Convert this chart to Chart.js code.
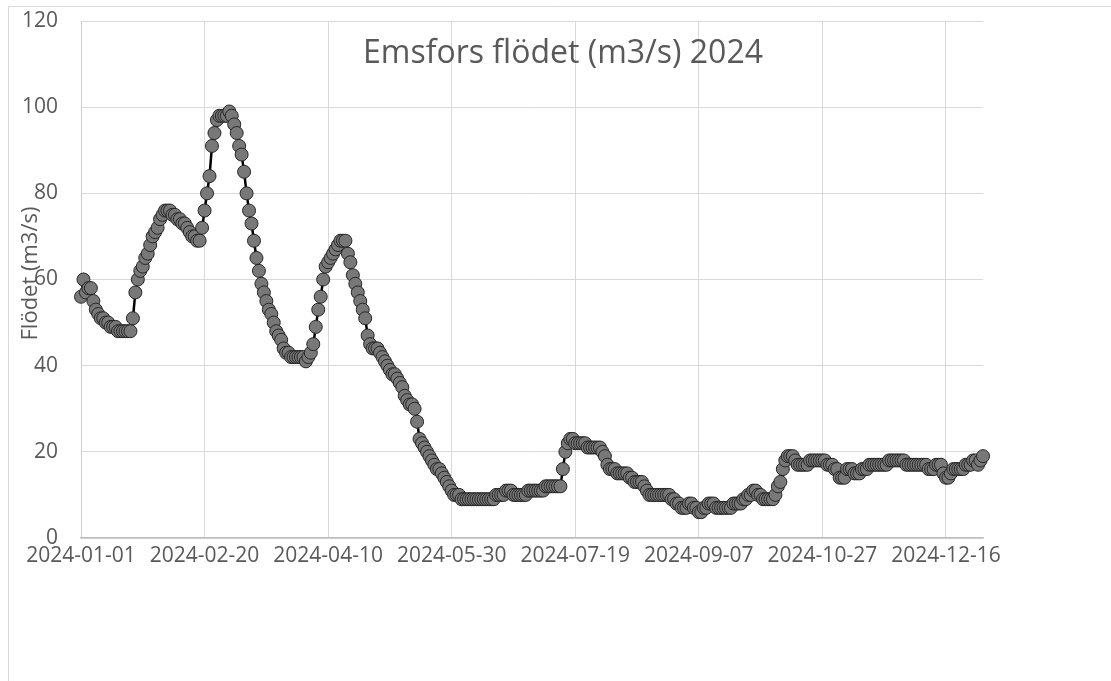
<!DOCTYPE html>
<html lang="sv">
<head>
<meta charset="utf-8">
<title>Emsfors flödet 2024</title>
<script src="https://cdn.jsdelivr.net/npm/chart.js@4.4.1/dist/chart.umd.min.js"></script>
<style>
    html, body { margin: 0; padding: 0; background: #ffffff; }
    canvas { display: block; }
</style>
</head>
<body>
<canvas id="flow-chart" width="1111" height="681"></canvas>
<script>
// daily flow at Emsfors, m3/s, one array per month
const START_DATE = "2024-01-01";
const jan = [56, 60, 57, 58, 58, 55, 53, 52, 51, 51, 50, 50, 49, 49, 49, 48, 48, 48, 48, 48, 48, 51, 57, 60, 62, 63, 65, 66, 68, 70, 71];
const feb = [72, 74, 75, 76, 76, 76, 75, 75, 74, 74, 73, 73, 72, 71, 70, 70, 69, 69, 72, 76, 80, 84, 91, 94, 97, 98, 98, 98, 98];
const mar = [99, 98, 96, 94, 91, 89, 85, 80, 76, 73, 69, 65, 62, 59, 57, 55, 53, 52, 50, 48, 47, 46, 44, 43, 43, 42, 42, 42, 42, 42, 42];
const apr = [41, 42, 43, 45, 49, 53, 56, 60, 63, 64, 65, 66, 67, 68, 69, 69, 69, 66, 64, 61, 59, 57, 55, 53, 51, 47, 45, 44, 44, 44];
const may = [43, 42, 41, 40, 39, 38, 38, 37, 36, 35, 33, 32, 31, 31, 30, 27, 23, 22, 21, 20, 19, 18, 17, 16, 16, 15, 14, 13, 12, 11, 10];
const jun = [10, 10, 9, 9, 9, 9, 9, 9, 9, 9, 9, 9, 9, 9, 9, 9, 10, 10, 10, 10, 11, 11, 11, 10, 10, 10, 10, 10, 10, 11];
const jul = [11, 11, 11, 11, 11, 11, 12, 12, 12, 12, 12, 12, 12, 16, 20, 22, 23, 23, 22, 22, 22, 22, 22, 21, 21, 21, 21, 21, 21, 20, 19];
const aug = [17, 16, 16, 16, 15, 15, 15, 15, 15, 14, 14, 13, 13, 13, 13, 12, 11, 10, 10, 10, 10, 10, 10, 10, 10, 10, 9, 9, 8, 8, 7];
const sep = [7, 7, 8, 8, 7, 7, 6, 6, 7, 7, 8, 8, 8, 7, 7, 7, 7, 7, 7, 7, 8, 8, 8, 8, 9, 9, 10, 10, 11, 11];
const oct = [10, 10, 9, 9, 9, 9, 9, 10, 12, 13, 16, 18, 19, 19, 19, 18, 17, 17, 17, 17, 17, 18, 18, 18, 18, 18, 18, 18, 17, 17, 17];
const nov = [16, 16, 14, 14, 14, 16, 16, 16, 15, 15, 15, 16, 16, 16, 17, 17, 17, 17, 17, 17, 17, 17, 18, 18, 18, 18, 18, 18, 18, 17];
const dec = [17, 17, 17, 17, 17, 17, 17, 17, 16, 16, 16, 17, 17, 17, 15, 14, 14, 15, 16, 16, 16, 16, 16, 17, 17, 17, 18, 18, 17, 18, 19];

const xTickLabels = ["2024-01-01", "2024-02-20", "2024-04-10", "2024-05-30", "2024-07-19", "2024-09-07", "2024-10-27", "2024-12-16"];
const yTickValues = [0, 20, 40, 60, 80, 100, 120];

const CHART_TITLE = "Emsfors flödet (m3/s) 2024";
const Y_TITLE = "Flödet (m3/s)";

document.addEventListener("DOMContentLoaded", () => {
    const TEXT_COLOR = "#595959";
    const GRID_COLOR = "#d9d9d9";
    const FONT = "'Open Sans', 'Liberation Sans', sans-serif";
    const DAY_MS = 24 * 60 * 60 * 1000;

    const flow = [].concat(jan, feb, mar, apr, may, jun, jul, aug, sep, oct, nov, dec);

    function dayIndex(label) {
        return Math.round((Date.parse(label) - Date.parse(START_DATE)) / DAY_MS);
    }

    function dateLabel(day) {
        return new Date(Date.parse(START_DATE) + day * DAY_MS).toISOString().slice(0, 10);
    }

    // white background and the thin frame of the chart object
    const framePlugin = {
        id: "frame",
        beforeDraw(chart) {
            const ctx = chart.ctx;
            ctx.save();
            ctx.fillStyle = "#ffffff";
            ctx.fillRect(0, 0, chart.width, chart.height);
            ctx.strokeStyle = GRID_COLOR;
            ctx.lineWidth = 1;
            ctx.beginPath();
            ctx.moveTo(8.5, chart.height);
            ctx.lineTo(8.5, 6.5);
            ctx.lineTo(chart.width, 6.5);
            ctx.stroke();
            ctx.restore();
        },
    };

    // title and axis title sit on top of the plot like in Excel
    const overlayTextPlugin = {
        id: "overlayText",
        afterDraw(chart) {
            const ctx = chart.ctx;
            const area = chart.chartArea;
            ctx.save();
            ctx.fillStyle = TEXT_COLOR;
            ctx.textAlign = "center";
            ctx.textBaseline = "alphabetic";
            ctx.font = "32px " + FONT;
            ctx.fillText(CHART_TITLE, 563, 63);

            ctx.translate(31, (area.top + area.bottom) / 2 - 6);
            ctx.rotate(-Math.PI / 2);
            ctx.textBaseline = "middle";
            ctx.font = "22px " + FONT;
            ctx.fillText(Y_TITLE, 0, 0);
            ctx.restore();
        },
    };

    function init() {
        const canvas = document.getElementById("flow-chart");

        new Chart(canvas.getContext("2d"), {
            type: "line",
            data: {
                datasets: [
                    {
                        label: Y_TITLE,
                        data: flow.map((v, i) => ({ x: i, y: v })),
                        borderColor: "#000000",
                        borderWidth: 2.5,
                        pointRadius: 6.5,
                        pointBackgroundColor: "#787878",
                        pointBorderColor: "#262626",
                        pointBorderWidth: 1,
                        tension: 0,
                        clip: false,
                    },
                ],
            },
            options: {
                responsive: false,
                animation: false,
                devicePixelRatio: 1,
                layout: {
                    padding: { left: 0, top: 21, right: 128, bottom: 103 },
                },
                plugins: {
                    legend: { display: false },
                    tooltip: { enabled: false },
                    title: { display: false },
                },
                scales: {
                    x: {
                        type: "linear",
                        min: 0,
                        max: flow.length - 1,
                        afterBuildTicks: (scale) => {
                            scale.ticks = xTickLabels.map((l) => ({ value: dayIndex(l) }));
                        },
                        afterFit: (scale) => {
                            scale.height = 40;
                            scale.paddingLeft = 0;
                            scale.paddingRight = 0;
                        },
                        grid: { color: GRID_COLOR, drawTicks: false },
                        border: { color: "#bfbfbf", width: 1.5 },
                        ticks: {
                            padding: 5,
                            color: TEXT_COLOR,
                            font: { family: FONT, size: 21 },
                            maxRotation: 0,
                            autoSkip: false,
                            callback: (value) => dateLabel(value),
                        },
                    },
                    y: {
                        min: 0,
                        max: 120,
                        afterBuildTicks: (scale) => {
                            scale.ticks = yTickValues.map((v) => ({ value: v }));
                        },
                        afterFit: (scale) => {
                            scale.width = 81;
                            scale.paddingTop = 0;
                            scale.paddingBottom = 0;
                        },
                        grid: { color: GRID_COLOR, drawTicks: false },
                        border: { color: "#cccccc", width: 1 },
                        ticks: {
                            padding: 23,
                            color: TEXT_COLOR,
                            font: { family: FONT, size: 21 },
                        },
                    },
                },
            },
            plugins: [framePlugin, overlayTextPlugin],
        });
    }

    init();
});
</script>
</body>
</html>
